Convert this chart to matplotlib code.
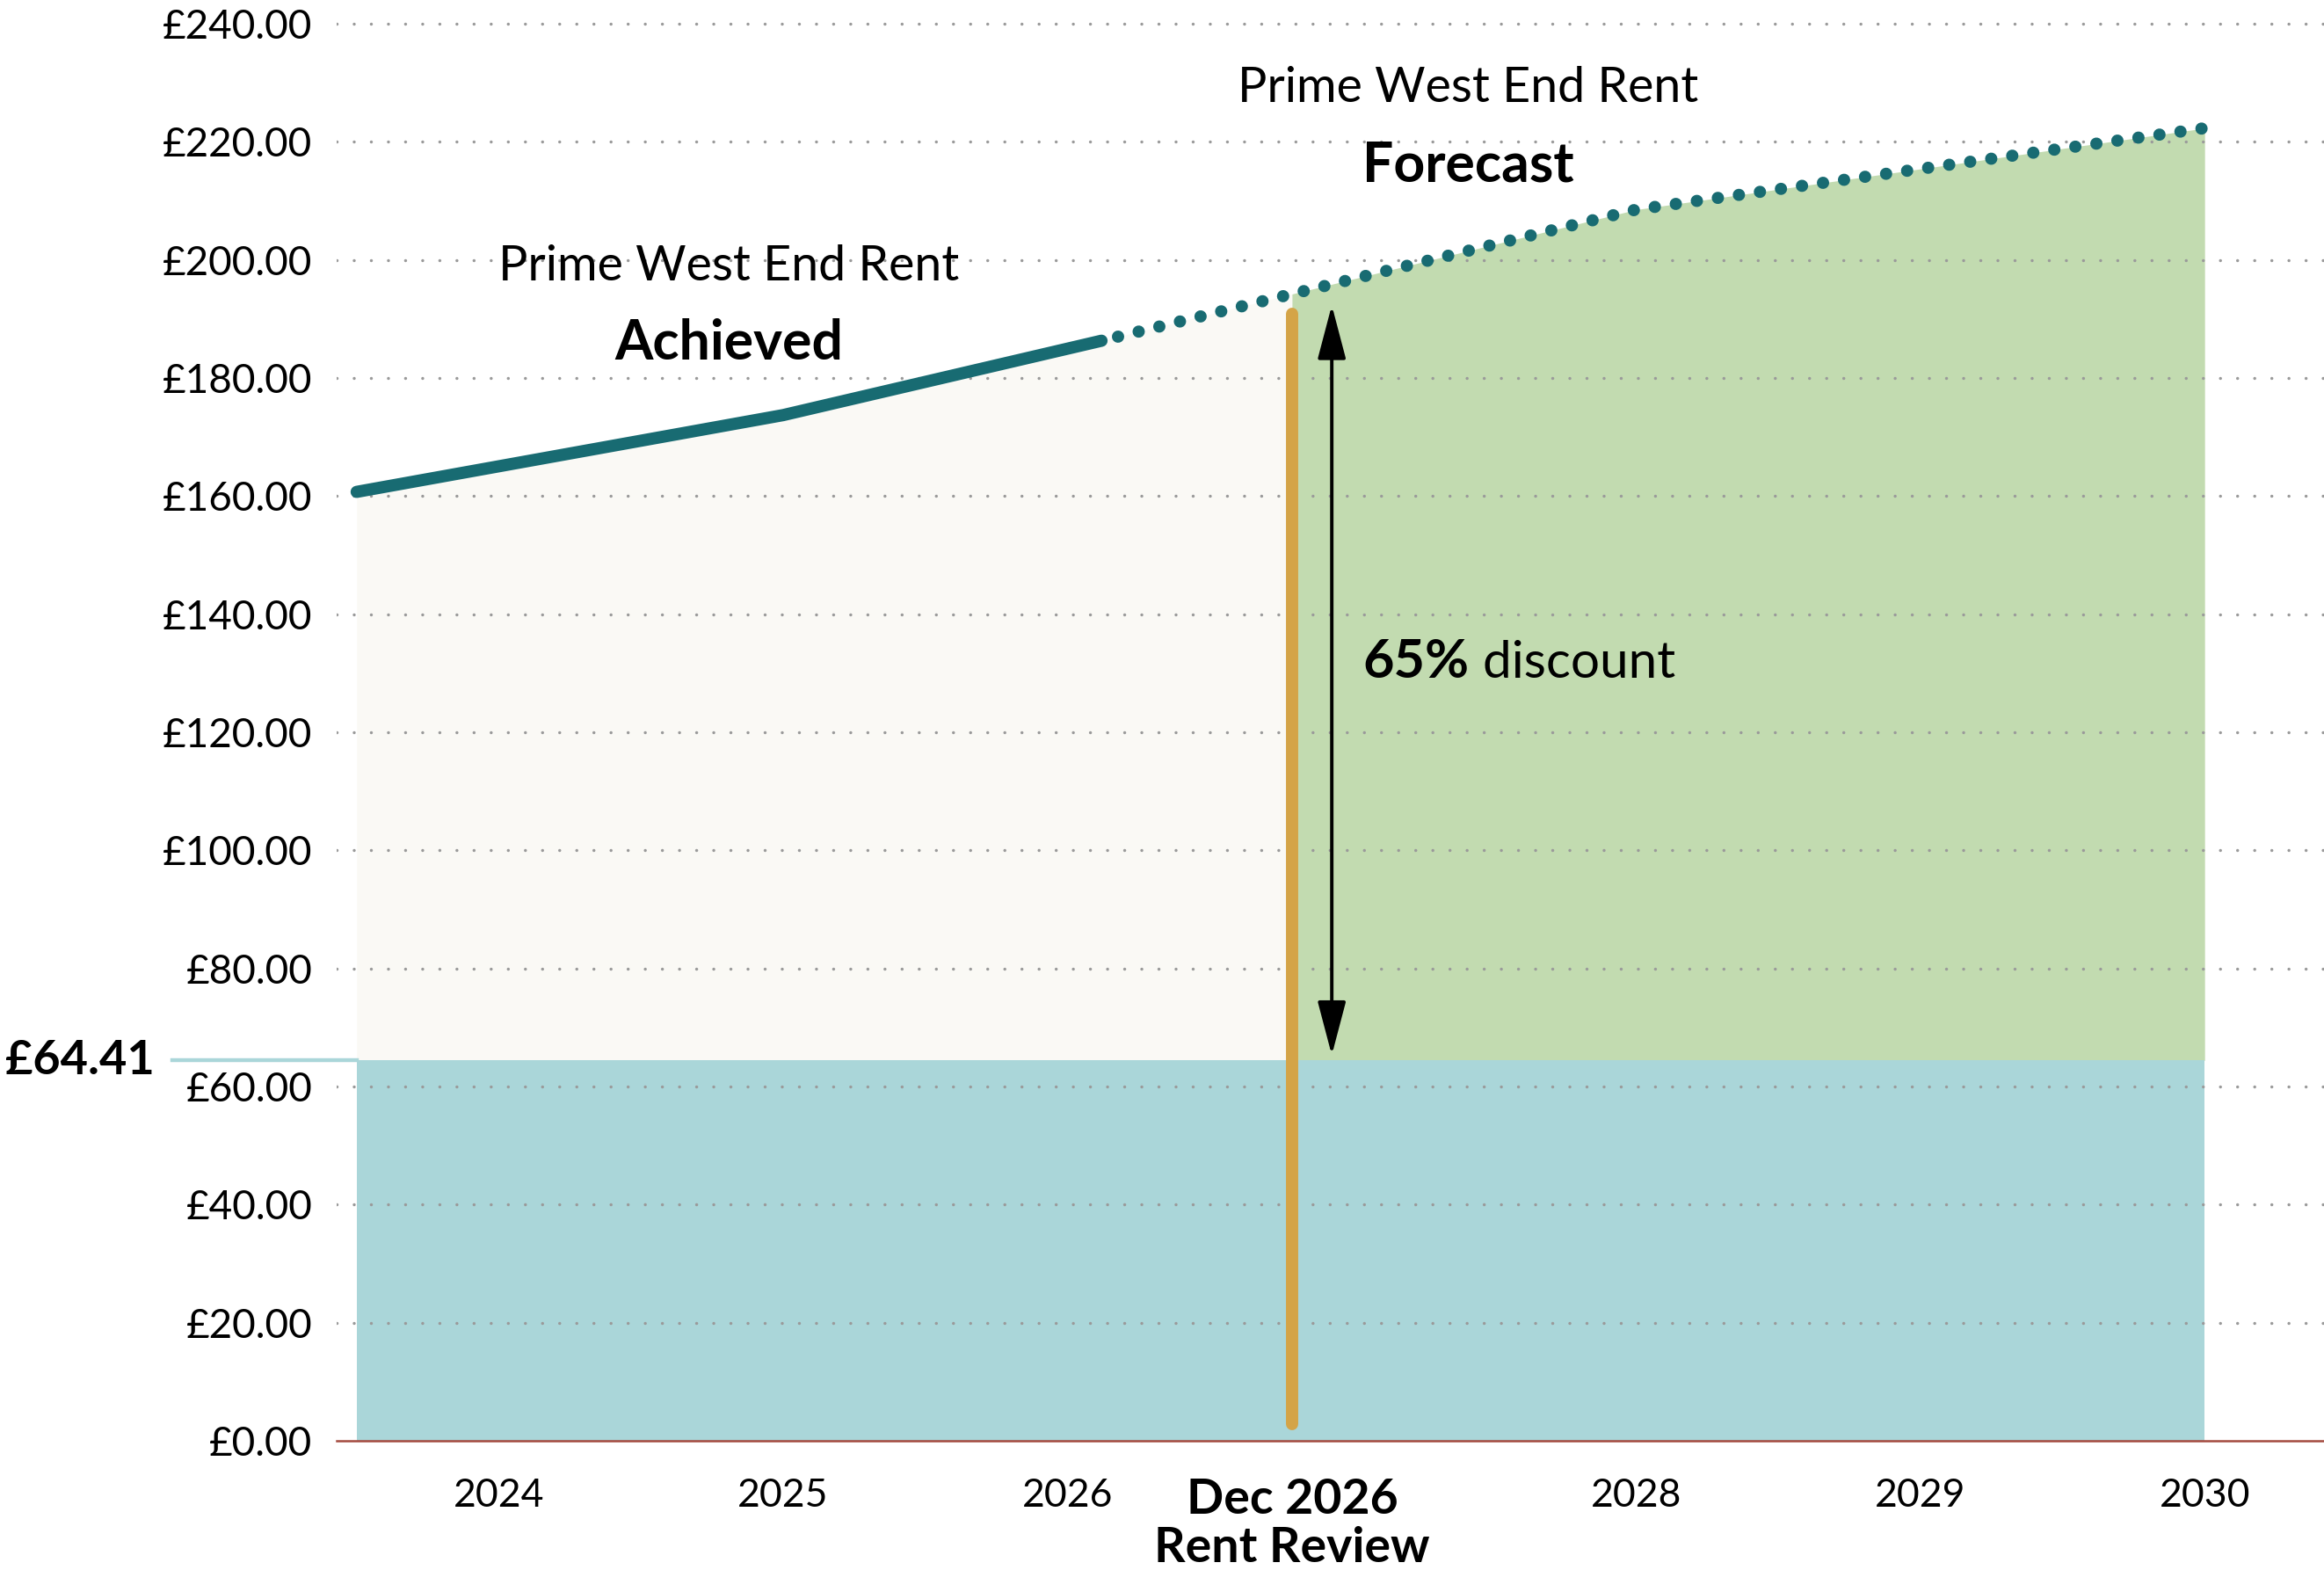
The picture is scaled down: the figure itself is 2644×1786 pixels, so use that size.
import matplotlib
matplotlib.use("Agg")
import matplotlib.pyplot as plt
import numpy as np

# Prime West End rent (GBP per sq ft)
achieved_x = [2023.5, 2025.0, 2026.12]
achieved_y = [160.7, 173.7, 186.3]
forecast_x = [2026.12, 2028.0, 2030.0]
forecast_y = [186.3, 208.5, 222.3]

review_x = 2026.79          # Dec 2026 rent review
review_rent = 64.41         # rent payable at review
discount_pct = "65%"

year_ticks = [2024, 2025, 2026, review_x, 2028, 2029, 2030]
year_labels = ["2024", "2025", "2026", "Dec 2026\nRent Review", "2028", "2029", "2030"]
rent_ticks = [0, 20, 40, 60, 80, 100, 120, 140, 160, 180, 200, 220, 240]

teal = "#186B72"
teal_fill = "#AAD6D9"
green_fill = "#C2DBB0"
cream_fill = "#FAF9F5"
gold = "#D4A447"
grid_grey = "#9A9A9A"

plt.rcParams["font.family"] = ["Lato", "DejaVu Sans"]

fig = plt.figure(figsize=(13.22, 8.93), dpi=200)
ax = fig.add_axes([0.1449, 0.0823, 0.8551, 0.9177])
xlim = (2023.43, 2030.42)
ax.set_xlim(*xlim)
ax.set_ylim(0, 244)

# full rent curve, used for the fills
line_x = achieved_x + forecast_x[1:]
line_y = achieved_y + forecast_y[1:]
rent_at_review = np.interp(review_x, line_x, line_y)

cx = [x for x in line_x if x < review_x] + [review_x]
cy = [y for x, y in zip(line_x, line_y) if x < review_x] + [rent_at_review]
ax.fill_between(cx, review_rent, cy, color=cream_fill, lw=0, zorder=1)

gx = [review_x] + [x for x in line_x if x > review_x]
gy = [rent_at_review] + [y for x, y in zip(line_x, line_y) if x > review_x]
ax.fill_between(gx, review_rent, gy, color=green_fill, lw=0, zorder=1)

ax.fill_between([line_x[0], line_x[-1]], 0, review_rent, color=teal_fill, lw=0, zorder=1)

# dotted grid
for t in rent_ticks[1:]:
    ax.axhline(t, color=grid_grey, lw=1.25, linestyle=(0, (0.01, 5.6)),
               dash_capstyle="round", zorder=1.5)
ax.axhline(0, color="#A44A3F", lw=0.9, zorder=2, clip_on=False)

# rent review marker
ax.plot([review_x, review_x], [2.8, 190.8], color=gold, lw=5,
        solid_capstyle="round", zorder=3)

# rent lines
ax.plot(achieved_x, achieved_y, color=teal, lw=5, solid_capstyle="round", zorder=4)
ax.plot(forecast_x, forecast_y, color=teal, lw=5, linestyle=(0.35, (0.01, 1.73)),
        dash_capstyle="round", zorder=4)

# discount arrow
ax.annotate("", xy=(review_x + 0.14, review_rent + 0.9), xytext=(review_x + 0.14, 192.3),
            arrowprops=dict(arrowstyle="<|-|>,head_length=0.95,head_width=0.25",
                            color="black", lw=1.4, shrinkA=0, shrinkB=0,
                            mutation_scale=20), zorder=5)
pct = ax.text(review_x + 0.25, 131.9, discount_pct, fontsize=22, fontweight="bold",
              ha="left", va="center", zorder=6)
ax.annotate(" discount", xy=(1, 0), xycoords=pct, fontsize=21, fontweight="normal",
            ha="left", va="bottom", zorder=6)

# £64.41 marker left of the axis
ytr = ax.get_yaxis_transform()
start_ax = (line_x[0] - xlim[0]) / (xlim[1] - xlim[0])
ax.plot([-0.0827, start_ax], [review_rent, review_rent], color=teal_fill, lw=1.6,
        transform=ytr, clip_on=False, zorder=2)
ax.text(-0.0915, review_rent, "£{:.2f}".format(review_rent), transform=ytr,
        fontsize=19.5, fontweight="bold", ha="right", va="center")

# section headings
ax.text(2024.81, 198.8, "Prime West End Rent", fontsize=20, fontweight="normal",
        ha="center", va="center")
ax.text(2024.81, 185.8, "Achieved", fontsize=22.5, fontweight="bold",
        ha="center", va="center")
ax.text(2027.41, 229.0, "Prime West End Rent", fontsize=20, fontweight="normal",
        ha="center", va="center")
ax.text(2027.41, 216.0, "Forecast", fontsize=22.5, fontweight="bold",
        ha="center", va="center")

# axes
ax.set_yticks(rent_ticks)
ax.set_yticklabels(["£{:.2f}".format(t) for t in rent_ticks], fontsize=16.5)
ax.set_xticks(year_ticks)
ax.set_xticklabels(year_labels, fontsize=16)
for lab, t in zip(ax.get_xticklabels(), year_ticks):
    if t == review_x:
        lab.set_fontweight("bold")
        lab.set_fontsize(20)
        lab.set_linespacing(1.14)
ax.tick_params(axis="y", length=0, pad=10)
ax.tick_params(axis="x", length=0, pad=15)
for s in ax.spines.values():
    s.set_visible(False)

fig.savefig("out.png", dpi=200)
